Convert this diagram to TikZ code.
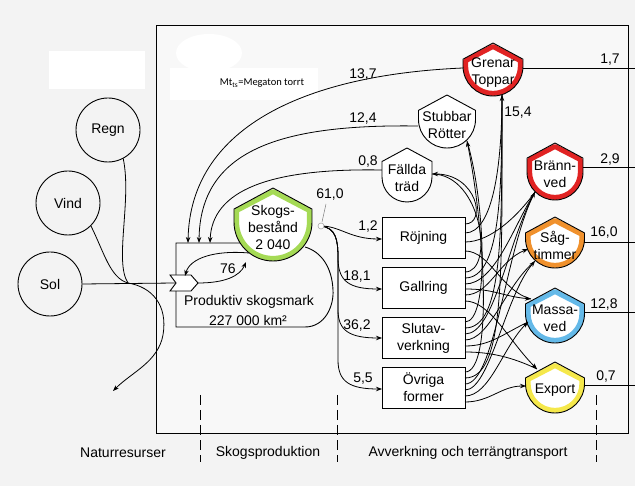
\documentclass[tikz,border=0pt]{standalone}
\usepackage{fontspec}
\setmainfont{Liberation Sans}
\newfontfamily\calibfont{Carlito}
\usetikzlibrary{arrows.meta}
\definecolor{bgc}{RGB}{243,243,243}
\definecolor{inbg}{RGB}{248,248,248}
\definecolor{cgreen}{RGB}{165,218,85}
\definecolor{cred}{RGB}{225,35,35}
\definecolor{corange}{RGB}{240,145,45}
\definecolor{cblue}{RGB}{100,185,232}
\definecolor{cyellow}{RGB}{245,232,75}
\newcommand\shieldshape[7]{%
  \pgfmathsetmacro\shL{#2-#4/2}%
  \pgfmathsetmacro\shR{#2+#4/2}%
  \pgfmathsetmacro\shS{#3+0.27*#4}%
  \pgfmathsetmacro\shA{#5-#4/2}%
  \pgfmathsetmacro\shK{0.5523*#4/2}%
  \pgfmathsetmacro\shM{(#3+#5)/2+3}%
  \pgfmathsetmacro\iL{\shL+2.6}%
  \pgfmathsetmacro\iR{\shR-2.6}%
  \pgfmathsetmacro\iP{#3+3.5}%
  \pgfmathsetmacro\iS{\shS+1.5}%
  \pgfmathsetmacro\iB{#5-2.6}%
  \pgfmathsetmacro\iK{0.5523*(#4-5.2)/2}%
  \fill[white] (#2,#3) -- (\shR,\shS) -- (\shR,\shA) .. controls (\shR,\shA+\shK) and (#2+\shK,#5) .. (#2,#5) .. controls (#2-\shK,#5) and (\shL,\shA+\shK) .. (\shL,\shA) -- (\shL,\shS) -- cycle;
  \draw[#6,line width=5pt,line join=round] (#2,\iP) -- (\iR,\iS) -- (\iR,\shA) .. controls (\iR,\shA+\iK) and (#2+\iK,\iB) .. (#2,\iB) .. controls (#2-\iK,\iB) and (\iL,\shA+\iK) .. (\iL,\shA) -- (\iL,\iS) -- cycle;
  \draw[black,line width=0.9pt,line join=round] (#2,#3) -- (\shR,\shS) -- (\shR,\shA) .. controls (\shR,\shA+\shK) and (#2+\shK,#5) .. (#2,#5) .. controls (#2-\shK,#5) and (\shL,\shA+\shK) .. (\shL,\shA) -- (\shL,\shS) -- cycle;
  \node[align=center] (#1) at (#2,\shM) {#7};
}
\tikzset{
  every node/.style={font=\fontsize{14}{17}\selectfont, inner sep=0pt},
  flow/.style={draw, line width=0.8pt},
  flowa/.style={draw, line width=0.8pt, -{Stealth[length=6pt,width=4.5pt]}},
  boxst/.style={draw, line width=0.9pt, fill=white, minimum width=83pt, minimum height=41pt, align=center},
  res/.style={draw, circle, line width=0.9pt, minimum size=64pt},
  lbl/.style={font=\fontsize{14}{17}\selectfont},
  divider/.style={line width=0.7pt, dash pattern=on 10pt off 5pt}
}
\begin{document}
\begin{tikzpicture}[x=1pt,y=-1pt]
\useasboundingbox (0,0) rectangle (635,486);
\fill[bgc] (0,0) rectangle (635,486);
\fill[inbg] (156,26) rectangle (628,434);
% redactions
\fill[white] (49,51) rectangle (145,89);
\fill[white] (170,68) rectangle (318,100);
\fill[white] (209,53) ellipse [x radius=33, y radius=19];
\node (mt) at (262,83) {\calibfont\fontsize{10.5}{12}\selectfont Mt\textsubscript{ts}=Megaton torrt};
% frame
\draw[line width=1pt] (156,26) rectangle (628,434);
\draw[divider] (200,395) -- (200,462);
\draw[divider] (337,395) -- (337,462);
\draw[divider] (596,395) -- (596,462);
\node (nat) at (123,453) {Naturresurser};
\node (skp) at (268,453) {Skogsproduktion};
\node (avv) at (468,453) {Avverkning och terrängtransport};
% natural resources
\node[res] (regn) at (108,130) {Regn};
\node[res] (vind) at (68,203) {Vind};
\node[res] (sol) at (50,284) {Sol};
\coordinate (merge) at (128,283);
\coordinate (drain) at (113,391);
\coordinate (chevl) at (175,283);
\draw[flow] (regn.-62) .. controls (132,200) and (114,262) .. (merge);
\draw[flow] (vind.-45) .. controls (104,252) and (110,278) .. (merge);
\draw[flowa] (merge) .. controls (152,287) and (168,305) .. (163,335) .. controls (158,362) and (132,372) .. (drain);
\draw[flow] (sol.east) -- (chevl);
% productive land
\draw[line width=0.9pt] (240,243) -- (176,243) -- (176,327) -- (305,327) .. controls (325,327) and (334,306) .. (333,290) .. controls (332,268) and (322,252) .. (305,247);
\node (prod1) at (249,302) {Produktiv skogsmark};
\node (prod2) at (248,320) {227 000 km²};
\shieldshape{skog}{273}{188}{78}{261}{cgreen}{Skogs-\\bestånd\\2 040}
\fill[white,draw=black,line width=0.9pt,line join=miter] (170,275) -- (191,275) -- (198,283) -- (191,291) -- (170,291) -- (176,283) -- cycle;
\coordinate (chevtip) at (198,283);
\coordinate (chevtop) at (185,276);
\coordinate (skogbl) at (246,262);
\coordinate (skogl) at (249,253);
\draw[flowa] (chevtip) .. controls (225,283) and (240,276) .. (skogbl);
\draw[flowa] (skogl) .. controls (215,250) and (190,258) .. (chevtop);
\node[lbl] (l76) at (228,269) {76};
% return flows
\coordinate (in1) at (188,243);
\coordinate (in2) at (199,243);
\coordinate (in3) at (210,243);
\coordinate (grew) at (463,68);
\coordinate (stuw) at (418,126);
\coordinate (falw) at (382,170);
\draw[flowa] (grew) .. controls (300,75) and (190,130) .. (in1);
\draw[flowa] (stuw) .. controls (280,124) and (200,150) .. (in2);
\draw[flowa] (falw) .. controls (270,168) and (212,190) .. (in3);
\node[lbl] (l137) at (363,75) {13,7};
\node[lbl] (l124) at (363,119) {12,4};
\node[lbl] (l08) at (368,162) {0,8};
% harvest split
\coordinate (split) at (321,226);
\draw[gray,line width=0.5pt] (326,204) -- (322,222);
\node[lbl] (l610) at (330,195) {61,0};
\node[boxst] (roj) at (423.5,237.5) {Röjning};
\node[boxst] (gal) at (423.5,288) {Gallring};
\node[boxst] (slu) at (423.5,338) {Slutav-\\verkning};
\node[boxst] (ovr) at (423.5,387.5) {Övriga\\former};
\coordinate (rojin) at (382,239);
\coordinate (galin) at (382,289);
\coordinate (sluin) at (382,338);
\coordinate (ovrin) at (382,389);
\draw[flowa] (split) .. controls (340,226) and (350,239) .. (rojin);
\draw[flowa] (split) .. controls (336,228) and (338,240) .. (338,258) .. controls (338,282) and (350,289) .. (galin);
\draw[flowa] (split) .. controls (336,228) and (338,240) .. (338,258) -- (338,310) .. controls (338,331) and (350,338) .. (sluin);
\draw[flowa] (split) .. controls (336,228) and (338,240) .. (338,258) -- (338,360) .. controls (338,382) and (350,389) .. (ovrin);
\draw[gray!70,line width=0.6pt,fill=white] (split) circle [radius=3];
\node[lbl] (l12) at (368,227) {1,2};
\node[lbl] (l181) at (357,277) {18,1};
\node[lbl] (l362) at (357,326) {36,2};
\node[lbl] (l55) at (363,379) {5,5};
% products
\shieldshape{gren}{493}{43}{60}{96}{cred}{Grenar\\Toppar}
\shieldshape{stub}{447}{95}{57}{148}{white}{Stubbar\\Rötter}
\shieldshape{fall}{407}{148}{50}{202}{white}{Fällda\\träd}
\shieldshape{bran}{555}{143}{56}{200}{cred}{Bränn-\\ved}
\shieldshape{sag}{555}{217}{59}{268}{corange}{Såg-\\timmer}
\shieldshape{mas}{555}{288}{59}{343}{cblue}{Massa-\\ved}
\shieldshape{exp}{555}{362}{59}{413}{cyellow}{Export}
% exits and entries
\coordinate (r1) at (465,224); \coordinate (r2) at (465,233);
\coordinate (r3) at (465,242); \coordinate (r4) at (465,251);
\coordinate (g1) at (465,272); \coordinate (g2) at (465,278);
\coordinate (g3) at (465,284); \coordinate (g4) at (465,289);
\coordinate (g5) at (465,295); \coordinate (g6) at (465,301);
\coordinate (s1) at (465,322); \coordinate (s2) at (465,328);
\coordinate (s3) at (465,334); \coordinate (s4) at (465,340);
\coordinate (s5) at (465,346); \coordinate (s6) at (465,352);
\coordinate (o1) at (465,372); \coordinate (o2) at (465,378);
\coordinate (o3) at (465,384); \coordinate (o4) at (465,390);
\coordinate (o5) at (465,396); \coordinate (o6) at (465,402);
\coordinate (falin) at (432,174);
\coordinate (stuin) at (467,141);
\coordinate (grein) at (502,95);
\coordinate (brain) at (535,192);
\coordinate (sagin1) at (528,249);
\coordinate (sagin2) at (535,261);
\coordinate (masin1) at (531,299);
\coordinate (masin2) at (528,322);
\coordinate (expin1) at (537,369);
\coordinate (expin2) at (526,386);
% Fällda
\draw[flow] (g1) .. controls +(30,0) and +(50,0) .. (falin);
\draw[flowa] (r1) .. controls +(22,0) and +(45,0) .. (falin);
% Grenar
\draw[flow] (r2) .. controls +(28,0) and +(0,70) .. (grein);
\draw[flow] (g2) .. controls +(35,0) and +(0,100) .. (grein);
\draw[flow] (s2) .. controls +(38,0) and +(0,140) .. (grein);
\draw[flowa] (o2) .. controls +(40,0) and +(0,180) .. (grein);
% Stubbar
\draw[flow] (s1) .. controls +(25,0) and +(18,60) .. (stuin);
\draw[flowa] (o1) .. controls +(28,0) and +(18,90) .. (stuin);
% Brännved
\draw[flow] (r3) .. controls +(25,0) and +(-18,25) .. (brain);
\draw[flow] (g3) .. controls +(30,0) and +(-22,35) .. (brain);
\draw[flow] (s3) .. controls +(30,0) and +(-28,50) .. (brain);
\draw[flowa] (o3) .. controls +(30,0) and +(-30,60) .. (brain);
% Sågtimmer
\draw[flowa] (g5) .. controls +(25,0) and +(-30,12) .. (sagin1);
\draw[flow] (s4) .. controls +(25,0) and +(-30,25) .. (sagin2);
\draw[flowa] (o4) .. controls +(25,0) and +(-30,35) .. (sagin2);
% Massaved
\draw[flow] (r4) .. controls +(25,0) and +(-30,-8) .. (masin1);
\draw[flowa] (g4) .. controls +(30,0) and +(-30,-3) .. (masin1);
\draw[flow] (s5) .. controls +(25,0) and +(-25,12) .. (masin2);
\draw[flowa] (o5) .. controls +(25,0) and +(-25,25) .. (masin2);
% Export
\draw[flow] (s6) .. controls +(25,0) and +(-25,-12) .. (expin1);
\draw[flowa] (g6) .. controls +(25,0) and +(-28,-28) .. (expin1);
\draw[flowa] (o6) .. controls +(25,0) and +(-25,0) .. (expin2);
% outputs
\coordinate (greo) at (523,68);   \coordinate (greE) at (635,68);
\coordinate (brao) at (583,167);  \coordinate (braE) at (635,167);
\coordinate (sago) at (584,242);  \coordinate (sagE) at (635,242);
\coordinate (maso) at (584,312);  \coordinate (masE) at (635,312);
\coordinate (expo) at (584,385);  \coordinate (expE) at (635,385);
\draw[flow] (greo) -- (greE);
\draw[flow] (brao) -- (braE);
\draw[flow] (sago) -- (sagE);
\draw[flow] (maso) -- (masE);
\draw[flow] (expo) -- (expE);
\node[lbl] (l17) at (610,60) {1,7};
\node[lbl] (l29) at (610,160) {2,9};
\node[lbl] (l160) at (604,233) {16,0};
\node[lbl] (l128) at (604,305) {12,8};
\node[lbl] (l07) at (606,377) {0,7};
\node[lbl] (l154) at (518,113) {15,4};
\end{tikzpicture}
\end{document}
